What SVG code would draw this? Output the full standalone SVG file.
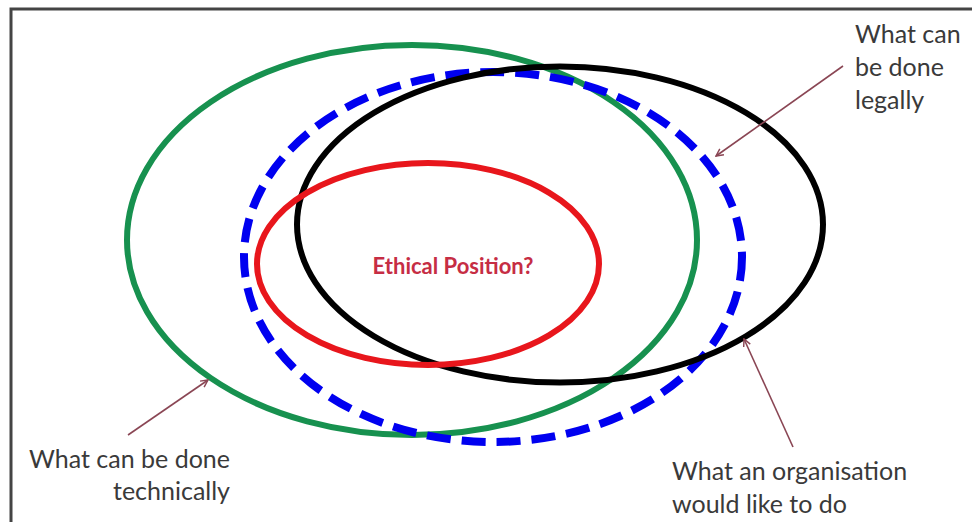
<svg xmlns="http://www.w3.org/2000/svg" width="972" height="522" viewBox="0 0 972 522">
<defs>
<style>
.lbl{font-family:Lato,"Open Sans","Liberation Sans",sans-serif;font-size:25px;fill:#3a3a3a}
.ring{fill:none}
.arr{stroke:#8a4654;stroke-width:1.6;fill:none}
</style>
<marker id="ah" viewBox="0 0 10 10" refX="9" refY="5" markerWidth="9" markerHeight="9" orient="auto" markerUnits="userSpaceOnUse">
<path d="M1,1 L9,5 L1,9" fill="none" stroke="#8a4654" stroke-width="1.6"/>
</marker>
</defs>
<rect width="972" height="522" fill="#fff"/>
<path d="M11,522 V9 H972" fill="none" stroke="#444" stroke-width="3"/>
<g id="technical"><ellipse class="ring" cx="412" cy="240" rx="285" ry="195" stroke="#17914f" stroke-width="6"/></g>
<g id="legal"><ellipse class="ring" cx="493" cy="257" rx="249" ry="185" stroke="#0000f0" stroke-width="8" stroke-dasharray="24 11"/></g>
<g id="organisation"><ellipse class="ring" cx="560" cy="224.5" rx="263" ry="158" stroke="#000" stroke-width="6"/></g>
<g id="ethical"><ellipse class="ring" cx="428" cy="264" rx="171" ry="101" stroke="#e8161c" stroke-width="6"/>
<text x="453" y="274" text-anchor="middle" style="font-family:Lato,'Open Sans','Liberation Sans',sans-serif;font-size:22px;font-weight:bold;fill:#c62d44">Ethical Position?</text></g>
<g id="connectors">
<line class="arr" x1="843" y1="66" x2="716" y2="156" marker-end="url(#ah)"/>
<line class="arr" x1="128" y1="435" x2="208" y2="380" marker-end="url(#ah)"/>
<line class="arr" x1="793" y1="447" x2="744" y2="339" marker-end="url(#ah)"/>
</g>
<g id="label-legal"><text class="lbl"><tspan x="855" y="43">What can</tspan><tspan x="855" y="76">be done</tspan><tspan x="855" y="109">legally</tspan></text></g>
<g id="label-technical"><text class="lbl" text-anchor="end"><tspan x="230" y="468">What can be done</tspan><tspan x="230" y="500">technically</tspan></text></g>
<g id="label-organisation"><text class="lbl"><tspan x="672" y="480">What an organisation</tspan><tspan x="672" y="513">would like to do</tspan></text></g>
</svg>
